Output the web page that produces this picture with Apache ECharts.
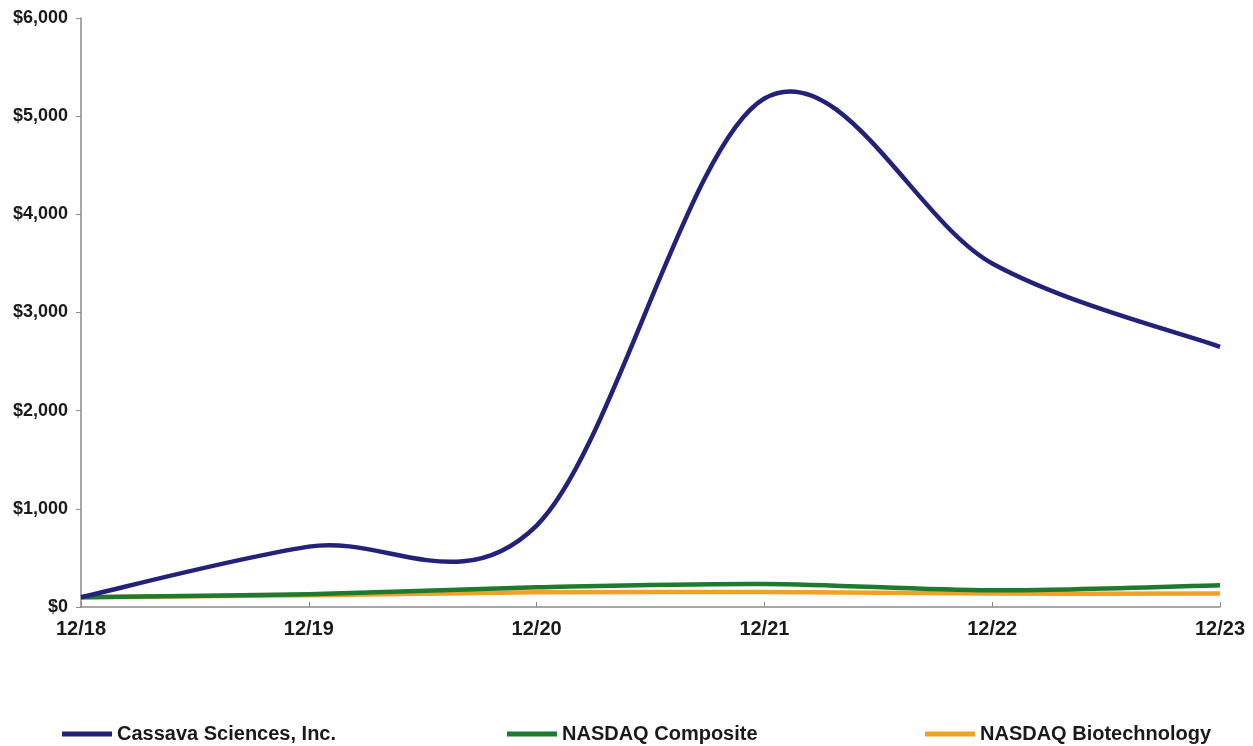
<!DOCTYPE html>
<html><head><meta charset="utf-8">
<script src="https://cdn.jsdelivr.net/npm/echarts@6/dist/echarts.min.js"></script>
<style>html,body{margin:0;padding:0;background:#fff}#c{width:1253px;height:746px}</style>
</head><body><div id="c"></div>
<script>
const categories = ['12/18','12/19','12/20','12/21','12/22','12/23'];
const cassava = [100, 615, 830, 5180, 3500, 2650];
const nasdaqComposite = [100, 130, 200, 235, 170, 222];
const nasdaqBiotech = [100, 120, 150, 152, 137, 138];
const yTicks = {min: 0, max: 6000, interval: 1000};

const chart = echarts.init(document.getElementById('c'));
const font = '"Liberation Sans", Arial, sans-serif';
const legendText = {fontFamily: font, fontWeight: 'bold', fontSize: 20, color: '#1a1a1a'};
function leg(name, left){
  return {data:[{name, icon:'rect'}], left, top: 724, itemWidth: 50, itemHeight: 5, textStyle: legendText, selectedMode:false, padding: 0};
}
// Excel-like smoothed line (Catmull-Rom bezier) drawn through the axis scales
function smoothSeries(name, values, color, z){
  return {
    name, type: 'custom', z,
    data: values.map((v, i) => [i, v]),
    encode: {x: 0, y: 1},
    itemStyle: {color},
    renderItem: function(params, api){
      if (params.dataIndex !== 0) return null;
      const pts = values.map((v, i) => api.coord([i, v]));
      const n = pts.length;
      let d = 'M' + pts[0][0] + ' ' + pts[0][1];
      for (let i = 0; i < n - 1; i++) {
        const p0 = pts[Math.max(i - 1, 0)], p1 = pts[i], p2 = pts[i + 1], p3 = pts[Math.min(i + 2, n - 1)];
        const c1x = p1[0] + (p2[0] - p0[0]) / 6, c1y = p1[1] + (p2[1] - p0[1]) / 6;
        const c2x = p2[0] - (p3[0] - p1[0]) / 6, c2y = p2[1] - (p3[1] - p1[1]) / 6;
        d += ' C' + c1x + ' ' + c1y + ' ' + c2x + ' ' + c2y + ' ' + p2[0] + ' ' + p2[1];
      }
      return {type: 'path', shape: {pathData: d}, style: {fill: 'none', stroke: color, lineWidth: 4.5, lineJoin: 'round', lineCap: 'butt'}};
    }
  };
}
chart.setOption({
  animation: false,
  grid: {left: 81, right: 33, top: 18, bottom: 139, containLabel: false},
  legend: [leg('Cassava Sciences, Inc.', 62), leg('NASDAQ Composite', 507), leg('NASDAQ Biotechnology', 925)],
  xAxis: {
    type: 'category', data: categories, boundaryGap: false,
    axisLine: {lineStyle: {color: '#8a8a8a', width: 1.5}},
    axisTick: {inside: true, length: 5, lineStyle: {color: '#8a8a8a'}},
    axisLabel: {fontFamily: font, fontWeight: 'bold', fontSize: 20, color: '#1a1a1a', margin: 12},
    splitLine: {show: false}
  },
  yAxis: {
    type: 'value', min: yTicks.min, max: yTicks.max, interval: yTicks.interval,
    axisLine: {show: true, lineStyle: {color: '#8a8a8a', width: 1.5}},
    axisTick: {show: true, length: 5, lineStyle: {color: '#8a8a8a'}},
    axisLabel: {fontFamily: font, fontWeight: 'bold', fontSize: 18, color: '#1a1a1a', margin: 13,
      formatter: v => '$' + v.toLocaleString('en-US')},
    splitLine: {show: false}
  },
  series: [
    smoothSeries('NASDAQ Biotechnology', nasdaqBiotech, '#f2a127', 2),
    smoothSeries('NASDAQ Composite', nasdaqComposite, '#1e7a2e', 3),
    smoothSeries('Cassava Sciences, Inc.', cassava, '#22227a', 4)
  ]
});
</script></body></html>
